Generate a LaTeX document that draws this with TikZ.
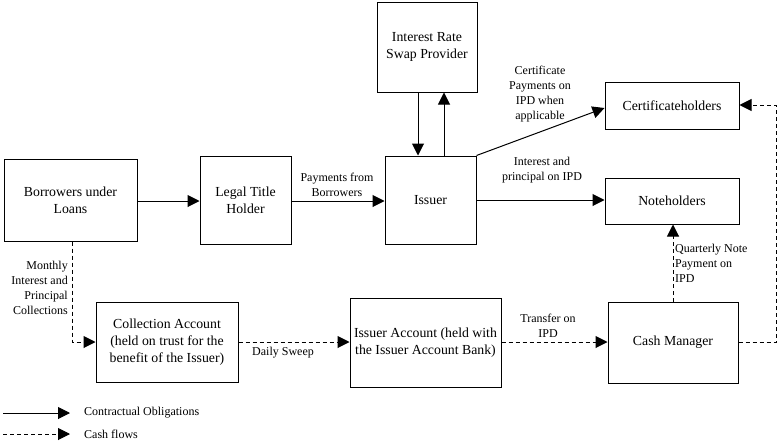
\documentclass[tikz,border=0pt]{standalone}
\usepackage{fontspec}
\setmainfont{Liberation Serif}
\usetikzlibrary{arrows.meta,positioning}
\begin{document}
\begin{tikzpicture}[x=1pt,y=-1pt,
  box/.style={draw,line width=1pt,align=center,inner sep=1pt,font=\fontsize{13.8}{17}\selectfont},
  lbl/.style={align=center,inner sep=0pt,font=\fontsize{12}{15}\selectfont},
  tip/.style={-{Triangle[length=12pt,width=12pt]}},
  solidarr/.style={tip,line width=1pt},
  casharr/.style={tip,line width=1pt,dash pattern=on 4pt off 3pt}]
\useasboundingbox (0,0) rectangle (779,442);
% boxes
\node[box,minimum width=133,minimum height=82] (borrow) at (70.5,200) {Borrowers under\\Loans};
\node[box,minimum width=91,minimum height=88] (lth) at (245.5,200) {Legal Title\\Holder};
\node[box,minimum width=91,minimum height=88] (issuer) at (430.5,200) {Issuer};
\node[box,minimum width=100,minimum height=90] (swap) at (427,47) {Interest Rate\\Swap Provider};
\node[box,minimum width=134,minimum height=47] (cert) at (672,105.5) {Certificateholders};
\node[box,minimum width=134,minimum height=46] (note) at (672,201) {Noteholders};
\node[box,minimum width=142,minimum height=80] (coll) at (167,342) {Collection Account\\(held on trust for the\\benefit of the Issuer)};
\node[box,minimum width=151,minimum height=89,inner sep=0pt] (iacc) at (425.5,342.5) {Issuer Account (held with\\the Issuer Account Bank)};
\node[box,minimum width=130,minimum height=81] (cash) at (673,342.5) {Cash Manager};
% contractual
\draw[solidarr] (borrow.east |- 0,201) -- (lth.west |- 0,201);
\draw[solidarr] (lth.east |- 0,201) -- (issuer.west |- 0,201);
\node[lbl] (lpay) at (337,185) {Payments from\\Borrowers};
\draw[solidarr] (swap.south -| 418,0) -- (issuer.north -| 418,0);
\draw[solidarr] (issuer.north -| 444,0) -- (swap.south -| 444,0);
\draw[solidarr] (issuer.north east) -- (cert.west |- 0,108);
\node[lbl] (lcert) at (540,94) {Certificate\\Payments on\\IPD when\\applicable};
\draw[solidarr] (issuer.east |- 0,200) -- (note.west |- 0,200);
\node[lbl] (lint) at (542,170) {Interest and\\principal on IPD};
% cash flows
\coordinate (c1) at (72,342);
\draw[casharr] (borrow.south -| c1) -- (c1) -- (coll.west |- c1);
\node[lbl,anchor=east,align=right] (lmon) at (68,288) {Monthly\\Interest and\\Principal\\Collections};
\draw[casharr] (coll.east |- 0,342) -- (iacc.west |- 0,342);
\node[lbl] (ldaily) at (283,353) {Daily Sweep};
\draw[casharr] (iacc.east |- 0,342) -- (cash.west |- 0,342);
\node[lbl] (ltrans) at (548,326) {Transfer on\\IPD};
\draw[casharr] (cash.north -| 673,0) -- (note.south -| 673,0);
\node[lbl,anchor=west,align=left] (lquart) at (675,263) {Quarterly Note\\Payment on\\IPD};
\coordinate (r1) at (776,342);
\coordinate (r2) at (776,105);
\draw[casharr] (cash.east |- r1) -- (r1) -- (r2) -- (cert.east |- r2);
% legend
\coordinate (la) at (3,413);
\coordinate (lb) at (70,413);
\coordinate (lc) at (3,434);
\coordinate (ld) at (70,434);
\draw[solidarr] (la) -- (lb);
\draw[casharr] (lc) -- (ld);
\node[lbl,anchor=west] (lg1) at (84,413) {Contractual Obligations};
\node[lbl,anchor=west] (lg2) at (84,434) {Cash flows};
\end{tikzpicture}
\end{document}
